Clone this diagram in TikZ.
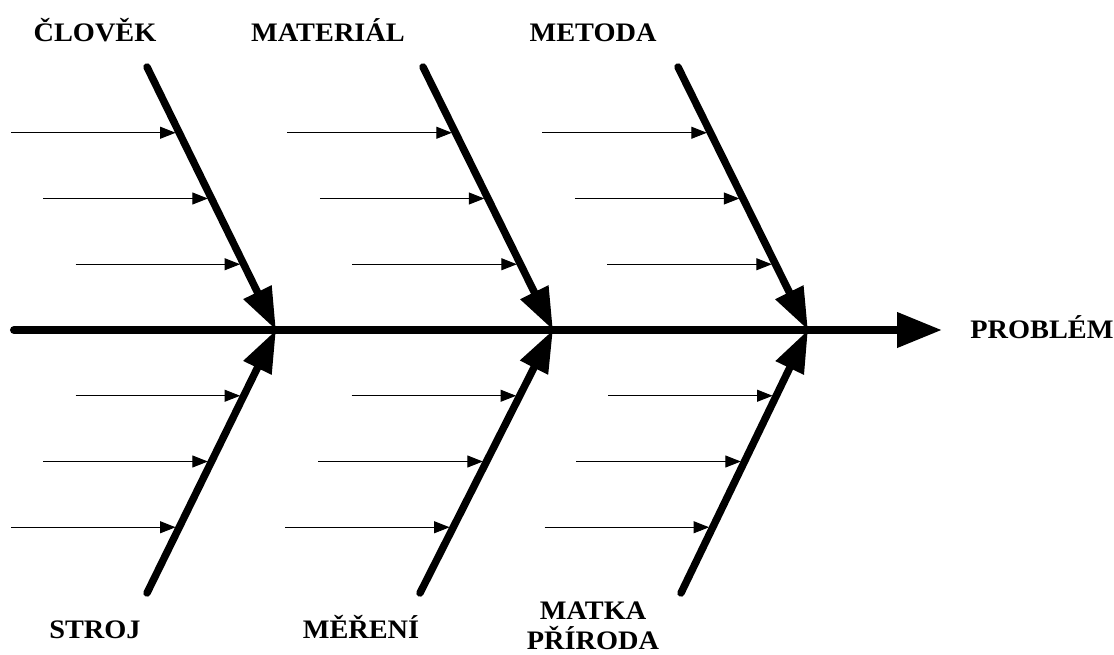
\documentclass[tikz,border=0pt]{standalone}
\usepackage{fontspec}
\setmainfont[FakeStretch=1.06]{Liberation Serif}
\usepackage{tikz}
\usetikzlibrary{arrows.meta}

\begin{document}
\begin{tikzpicture}[x=0.025cm,y=-0.025cm,
  lab/.style={font=\fontsize{19}{21.3}\selectfont\bfseries,inner sep=0pt,anchor=base,align=center},
  spine/.style={-{Triangle[length=32pt,width=24pt]},line width=5.7pt,line cap=round},
  bone/.style={-{Triangle[length=30pt,width=21pt]},line width=5.3pt,line cap=round},
  twig/.style={-{Triangle[length=11pt,width=8.5pt]},line width=0.7pt,shorten >=2.6pt}]
  \useasboundingbox (0,0) rectangle (1114,654);
  % cause labels
  \node[lab] (clovek) at (95,41) {ČLOVĚK};
  \node[lab] (material) at (328,41) {MATERIÁL};
  \node[lab] (metoda) at (593,41) {METODA};
  \node[lab] (stroj) at (95,638) {STROJ};
  \node[lab] (mereni) at (361,638) {MĚŘENÍ};
  \node[lab] (matka) at (593,649) {MATKA\\PŘÍRODA};
  \node[lab] (problem) at (1042,338) {PROBLÉM};

  % spine and joints
  \coordinate (s0) at (14,330);
  \coordinate (s1) at (942,330);
  \coordinate (j1) at (276,330);
  \coordinate (j2) at (553,330);
  \coordinate (j3) at (808,330);
  % free ends of the bones
  \coordinate (u1) at (147,67);
  \coordinate (u2) at (423,67);
  \coordinate (u3) at (678,67);
  \coordinate (d1) at (147,593);
  \coordinate (d2) at (420,593);
  \coordinate (d3) at (681,593);

  \draw[spine] (s0) -- (s1);
  \draw[bone] (u1) -- coordinate[pos=.25] (u1a) coordinate[pos=.5] (u1b) coordinate[pos=.75] (u1c) (j1);
  \draw[bone] (u2) -- coordinate[pos=.25] (u2a) coordinate[pos=.5] (u2b) coordinate[pos=.75] (u2c) (j2);
  \draw[bone] (u3) -- coordinate[pos=.25] (u3a) coordinate[pos=.5] (u3b) coordinate[pos=.75] (u3c) (j3);
  \draw[bone] (d1) -- coordinate[pos=.25] (d1a) coordinate[pos=.5] (d1b) coordinate[pos=.75] (d1c) (j1);
  \draw[bone] (d2) -- coordinate[pos=.25] (d2a) coordinate[pos=.5] (d2b) coordinate[pos=.75] (d2c) (j2);
  \draw[bone] (d3) -- coordinate[pos=.25] (d3a) coordinate[pos=.5] (d3b) coordinate[pos=.75] (d3c) (j3);

  % small causes
  \draw[twig] ([xshift=-4.2cm]u1a) -- (u1a);
  \draw[twig] ([xshift=-4.2cm]u1b) -- (u1b);
  \draw[twig] ([xshift=-4.2cm]u1c) -- (u1c);
  \draw[twig] ([xshift=-4.2cm]u2a) -- (u2a);
  \draw[twig] ([xshift=-4.2cm]u2b) -- (u2b);
  \draw[twig] ([xshift=-4.2cm]u2c) -- (u2c);
  \draw[twig] ([xshift=-4.2cm]u3a) -- (u3a);
  \draw[twig] ([xshift=-4.2cm]u3b) -- (u3b);
  \draw[twig] ([xshift=-4.2cm]u3c) -- (u3c);
  \draw[twig] ([xshift=-4.2cm]d1a) -- (d1a);
  \draw[twig] ([xshift=-4.2cm]d1b) -- (d1b);
  \draw[twig] ([xshift=-4.2cm]d1c) -- (d1c);
  \draw[twig] ([xshift=-4.2cm]d2a) -- (d2a);
  \draw[twig] ([xshift=-4.2cm]d2b) -- (d2b);
  \draw[twig] ([xshift=-4.2cm]d2c) -- (d2c);
  \draw[twig] ([xshift=-4.2cm]d3a) -- (d3a);
  \draw[twig] ([xshift=-4.2cm]d3b) -- (d3b);
  \draw[twig] ([xshift=-4.2cm]d3c) -- (d3c);
\end{tikzpicture}
\end{document}
